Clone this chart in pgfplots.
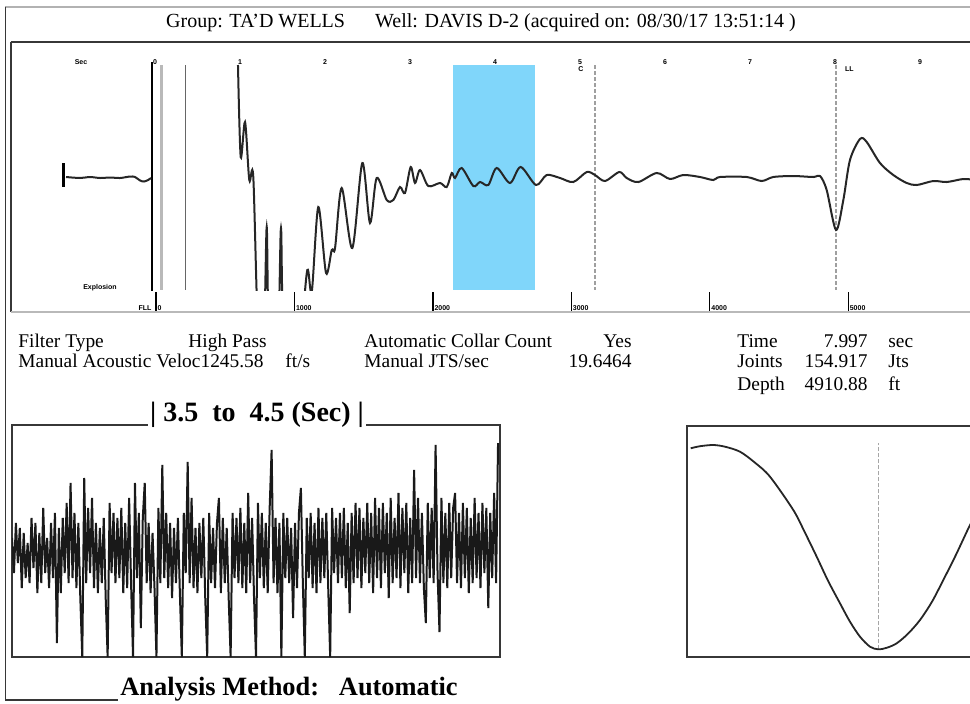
\documentclass[border=0pt]{standalone}
\usepackage{pgfplots}
\usepackage{pgfplotstable}
\pgfplotsset{compat=1.18}
\usepackage{fontspec}
\setmainfont{Liberation Serif}
\setsansfont{Liberation Sans}

\definecolor{skyb}{RGB}{128,214,250}
\definecolor{frm}{RGB}{55,55,55}

\newcommand\tfont{\fontsize{9.7}{11}\selectfont}
\newcommand\mini{\fontsize{3.5}{4}\selectfont\sffamily\bfseries}

% acoustic trace, t in sec, amplitude in px from baseline
\pgfplotstableread{
t v
-1.047 3
-0.882 2
-0.765 3
-0.647 2
-0.529 2.5
-0.412 2
-0.294 3.5
-0.235 3
-0.176 -0.5
-0.129 -1.5
-0.082 0
-0.047 2
}\pretrace

\pgfplotstableread{
t v
0.976 115
1.008 23
1.059 58
1.109 0
1.156 3
1.212 -150
1.282 -150
1.314 -47
1.341 -150
1.447 -150
1.482 -48
1.518 -150
1.706 -150
1.792 -90
1.844 -112
1.921 -27
2.012 -93
2.079 -70
2.118 -68
2.196 -8
2.321 -68
2.439 17
2.529 -43
2.608 2
2.726 -20
2.804 -20
2.882 -7
2.941 -13
3.008 13
3.059 -3
3.118 10
3.215 -6
3.353 -3
3.432 -7
3.491 7
3.529 2
3.608 12
3.745 -6
3.824 -2
3.921 -5
4.020 12
4.176 -3
4.302 13
4.482 -5
4.608 5
4.765 2
4.921 -2
5.079 8
5.176 5
5.294 -1
5.462 8
5.549 2
5.686 -2
5.902 7
6.059 1
6.215 5
6.412 3
6.568 0
6.647 3
6.961 3
7.138 -1
7.274 3
7.509 4
7.745 3
7.824 4
7.902 -10
8.012 -50
8.098 -20
8.176 20
8.294 41
8.373 38
8.529 17
8.686 5
8.844 -3
8.962 -5
9.157 -1
9.314 -2
9.510 1
9.647 0
}\posttrace

% 3.5 to 4.5 sec window, one value every 0.004 s
\pgfplotstableread{
y
15
-20
30
-10
25
-35
20
-25
10
-30
35
-15
30
-40
20
-30
45
-20
15
-35
30
-25
40
-90
25
-40
35
-20
50
-30
70
-25
40
-35
30
-45
-104
75
-30
45
-20
55
-35
30
-40
25
-30
35
-45
-104
50
-20
40
-30
35
-25
45
-40
30
-35
55
-30
-104
70
-25
40
-75
35
70
-30
30
-40
20
-35
-104
45
-30
88
-25
40
-35
30
-45
25
-30
35
-40
-104
40
-20
91
-30
55
-35
25
-40
30
-25
35
-45
-104
40
-30
25
-35
30
55
-40
35
-30
25
-45
-104
40
-25
35
-30
45
-35
30
-40
60
-30
35
-45
-104
50
-25
40
-35
30
-40
45
103
-30
35
-40
30
-104
40
-25
35
-30
25
-65
30
-35
40
65
-30
-104
35
-25
40
-35
30
-40
45
-30
35
-25
40
-35
-104
45
-20
35
-30
40
-25
45
-35
30
-60
40
-30
50
-25
45
-35
35
-20
50
-30
40
-40
55
-25
45
-35
50
-20
40
-45
55
-30
35
-25
60
-35
45
-20
50
-40
35
-30
83
-25
55
-30
40
-35
-70
50
-25
45
-30
108
-20
-79
55
-30
40
-35
50
-25
45
60
-30
40
-35
50
-25
45
-40
35
-30
55
-25
40
-35
50
-20
45
-55
40
-25
60
-30
110
}\noise

% correlation curve, px units
\pgfplotstableread{
x y
690.7 208.4
700 210.5
713.3 211.7
725 210
740 205
755 194
770 180
793.3 146.7
805 124
816.7 100
828 76
840 53.4
850 35
860 20
870 10
878.3 7.4
887 9
896.7 13.4
908 23
920 36.7
932 55
943.3 76.7
956 102
970 131.7
980 150
}\corr

\begin{document}
\begin{tikzpicture}
\useasboundingbox (0,0) rectangle (485pt,-351.5pt);
\clip (0,0) rectangle (485pt,-351.5pt);

\begin{scope}[x=0.5pt,y=0.5pt]
% page frame
\draw[gray!60, line width=1pt] (5,-6.7) -- (980,-6.7);
\draw[frm, line width=0.9pt] (5.5,-6.7) -- (5.5,-700) -- (118,-700);
\draw[frm, line width=1pt] (10.7,-41.7) -- (980,-41.7);
\draw[frm, line width=1pt] (10.7,-41.7) -- (10.7,-311.7);
\node[font=\fontsize{10}{12}\selectfont, anchor=base, inner sep=0pt] at (481,-27) {Group: TA'D WELLS\quad\ \ Well: DAVIS D-2 (acquired on: 08/30/17 13:51:14 )};
\end{scope}

% top trace
\begin{axis}[
  at={(5.35pt,-20.85pt)}, anchor=north west,
  scale only axis, width=482.15pt, height=124.15pt,
  xmin=-1.698, xmax=9.647, ymin=-110, ymax=138.3,
  axis line style={draw=none}, ytick=\empty,
  xtick={0,...,9}, xticklabels={0,1,2,3,4,5,6,7,8,9},
  xticklabel pos=upper, major tick length=0pt,
  xticklabel style={font=\mini, anchor=center, yshift=-10pt},
]
\addplot[fill=skyb, draw=none] coordinates {(3.506,-110) (3.506,115) (4.47,115) (4.47,-110)} -- cycle;
\addplot[black, line width=1.5pt] coordinates {(-1.082,17) (-1.082,-7)};
\addplot[black, line width=1.2pt] coordinates {(-0.035,118) (-0.035,-111)};
\addplot[gray!55, line width=1.4pt] coordinates {(0.079,115) (0.079,-110)};
\addplot[gray!80!black, line width=0.6pt] coordinates {(0.361,115) (0.361,-110)};
\addplot[gray!75, line width=0.8pt, dash pattern=on 2pt off 1pt] coordinates {(5.176,115) (5.176,-110)};
\addplot[gray!75, line width=0.8pt, dash pattern=on 2pt off 1pt] coordinates {(8.012,115) (8.012,-110)};
\addplot[black!85, line width=1pt, smooth, tension=0.5] table[x=t, y=v] {\pretrace};
\addplot[black!85, line width=1pt, smooth, tension=0.5] table[x=t, y=v] {\posttrace};
\end{axis}

% depth scale along the bottom of the trace panel
\begin{axis}[
  at={(5.35pt,-145pt)}, anchor=north west,
  scale only axis, width=482.15pt, height=10.85pt,
  xmin=-1049.5, xmax=5915.5, ymin=0, ymax=1,
  axis x line*=bottom, axis y line=none,
  x axis line style={gray!55, line width=1pt},
  xtick={0,1000,...,5000}, xticklabels={0,1000,2000,3000,4000,5000},
  xtick align=inside, major tick length=10pt,
  xtick style={black, line width=0.6pt},
  xticklabel style={font=\mini, anchor=south west, inner sep=0.6pt},
]
\end{axis}

\begin{scope}[x=0.5pt,y=0.5pt]
\node[font=\mini, anchor=center] at (81,-61.7) {Sec};
\node[font=\mini, anchor=center] at (100,-288) {Explosion};
\node[font=\mini, anchor=base east, inner sep=0.6pt] at (153,-310.5) {FLL};
\node[font=\mini, anchor=center] at (581,-69) {C};
\node[font=\mini, anchor=west] at (838,-69) {LL};

% info block
\begin{scope}[font=\tfont, every node/.style={inner sep=0pt}]
\node[anchor=base west] at (18,-347) {Filter Type};
\node[anchor=base east] at (267,-347) {High Pass};
\node[anchor=base west] at (364,-347) {Automatic Collar Count};
\node[anchor=base east] at (632,-347) {Yes};
\node[anchor=base west] at (737,-347) {Time};
\node[anchor=base east] at (868,-347) {7.997};
\node[anchor=base west] at (888,-347) {sec};
\node[anchor=base west] at (18,-367) {Manual Acoustic Veloc};
\node[anchor=base east] at (264,-367) {1245.58};
\node[anchor=base west] at (285,-367) {ft/s};
\node[anchor=base west] at (364,-367) {Manual JTS/sec};
\node[anchor=base east] at (632,-367) {19.6464};
\node[anchor=base west] at (737,-367) {Joints};
\node[anchor=base east] at (868,-367) {154.917};
\node[anchor=base west] at (888,-367) {Jts};
\node[anchor=base west] at (737,-390) {Depth};
\node[anchor=base east] at (868,-390) {4910.88};
\node[anchor=base west] at (888,-390) {ft};
\end{scope}
\end{scope}

% window 3.5 - 4.5 s
\begin{axis}[
  at={(6pt,-212.5pt)}, anchor=north west,
  scale only axis, width=244pt, height=116pt,
  xmin=3.5, xmax=4.5, ymin=-104, ymax=128,
  ticks=none, axis line style={frm, line width=1pt},
]
\addplot[black!90, line width=1pt] table[x expr=3.5+\coordindex*0.004, y=y] {\noise};
\end{axis}

% correlation window
\begin{axis}[
  at={(343.35pt,-213pt)}, anchor=north west,
  scale only axis, width=146.65pt, height=115.35pt,
  xmin=686.7, xmax=980, ymin=0, ymax=230.7,
  ticks=none, axis line style={frm, line width=1pt},
]
\addplot[gray!70, line width=0.8pt, dash pattern=on 2pt off 1pt] coordinates {(878.3,7.4) (878.3,213.7)};
\addplot[black!85, line width=0.9pt, smooth] table[x=x, y=y] {\corr};
\end{axis}

\begin{scope}[x=0.5pt,y=0.5pt]
\node[fill=white, inner sep=1pt, anchor=base, font=\fontsize{14}{16}\selectfont\bfseries] at (257,-421) {| 3.5\ \ to\ \ 4.5 (Sec) |};
\node[anchor=base west, inner sep=0pt, font=\fontsize{13.2}{15}\selectfont\bfseries] at (120,-695) {Analysis Method:\ \ \ Automatic};
\end{scope}
\end{tikzpicture}
\end{document}
